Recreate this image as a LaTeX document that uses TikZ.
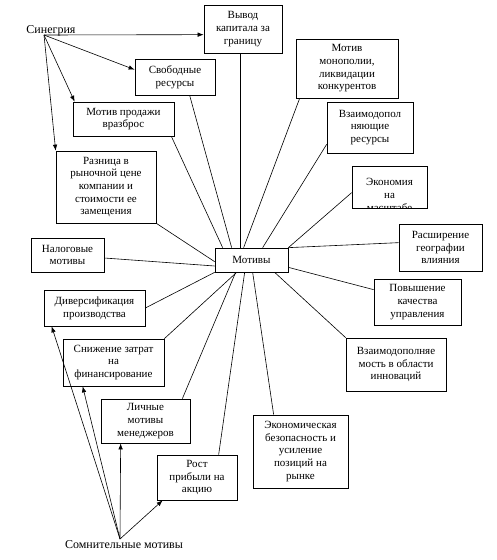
\documentclass[tikz,border=0pt]{standalone}
\usepackage{fontspec}
\setmainfont{Liberation Serif}
\usetikzlibrary{calc,arrows.meta}
\begin{document}
\begin{tikzpicture}[x=1pt,y=-1pt,
  box/.style={draw,line width=0.7pt,inner sep=0pt,align=center,font=\fontsize{11}{12.7}\selectfont},
  link/.style={line width=0.6pt},
  arr/.style={line width=0.6pt,-{Latex[length=6pt,width=4.5pt]}},
  lbl/.style={inner sep=0pt,font=\fontsize{12}{14}\selectfont}]
\useasboundingbox (0,0) rectangle (497,560);

% labels
\node[lbl] (syn) at (51,31) {Синегрия};
\node[lbl] (som) at (124,545) {Сомнительные мотивы};
\coordinate (synpt) at (44,35);
\coordinate (sompt) at (120,539);

% boxes
\node[box,minimum width=78pt,minimum height=48pt] (vyvod) at (243,29) {Вывод\\капитала за\\границу};
\node[box,minimum width=80pt,minimum height=36pt] (svob) at (175,77) {Свободные\\ресурсы};
\node[box,minimum width=101pt,minimum height=34pt] (prod) at (123.5,119) {Мотив продажи\\вразброс};
\node[box,minimum width=100pt,minimum height=72pt] (razn) at (106,187) {Разница в\\рыночной цене\\компании и\\стоимости ее\\замещения};
\node[box,minimum width=102pt,minimum height=59pt] (monop) at (347,68.5) {Мотив\\монополии,\\ликвидации\\конкурентов};
\node[box,minimum width=86pt,minimum height=51pt] (vzres) at (370,127.5) {Взаимодопол\\няющие\\ресурсы};
\begin{scope}
  \clip (352,166) rectangle (427,208);
  \node[box,draw=none] (econtext) at (389.5,195) {Экономия\\на\\масштабе};
\end{scope}
\node[box,minimum width=75pt,minimum height=42pt] (econ) at (389.5,187) {};
\node[box,minimum width=83pt,minimum height=47pt] (rassh) at (440.5,247.5) {Расширение\\географии\\влияния};
\node[box,minimum width=87pt,minimum height=46pt] (povysh) at (417.5,302) {Повышение\\качества\\управления};
\node[box,minimum width=100pt,minimum height=53pt] (innov) at (396,364.5) {Взаимодополняе\\мость в области\\инноваций};
\node[box,minimum width=95pt,minimum height=73pt] (ekbez) at (300.5,451.5) {Экономическая\\безопасность и\\усиление\\позиций на\\рынке};
\node[box,minimum width=80pt,minimum height=45pt] (rost) at (197,477.5) {Рост\\прибыли на\\акцию};
\node[box,minimum width=89pt,minimum height=44pt] (lichn) at (145.5,421) {Личные\\мотивы\\менеджеров};
\node[box,minimum width=101pt,minimum height=47pt] (snizh) at (113.5,362.5) {Снижение затрат\\на\\финансирование};
\node[box,minimum width=101pt,minimum height=36pt] (divers) at (94.5,308) {Диверсификация\\производства};
\node[box,minimum width=73pt,minimum height=34pt] (nalog) at (67.5,255) {Налоговые\\мотивы};
\node[box,minimum width=73pt,minimum height=24pt] (motivy) at (251.5,260) {Мотивы};

% links to Мотивы
\draw[link] ($(vyvod.south west)+(37,0)$) -- ($(motivy.north west)+(26,0)$);
\draw[link] ($(svob.south west)+(55,0)$) -- ($(motivy.north west)+(17,0)$);
\draw[link] ($(prod.south east)+(-3,0)$) -- ($(motivy.north west)+(8,0)$);
\draw[link] (razn.south east) -- ($(motivy.north west)+(0,14)$);
\draw[link] ($(nalog.east)+(0,3)$) -- ($(motivy.west)+(0,6)$);
\draw[link] (divers.east) -- (motivy.south west);
\draw[link] (snizh.north east) -- ($(motivy.south west)+(22,0)$);
\draw[link] ($(lichn.north east)+(-8,0)$) -- ($(motivy.south west)+(21,0)$);
\draw[link] ($(rost.north west)+(62,0)$) -- ($(motivy.south west)+(30,0)$);
\draw[link] ($(ekbez.north west)+(21,0)$) -- ($(motivy.south west)+(38,0)$);
\draw[link] (innov.north west) -- ($(motivy.south west)+(60,0)$);
\draw[link] ($(povysh.north west)+(0,11)$) -- ($(motivy.south east)+(0,-5)$);
\draw[link] ($(rassh.north west)+(0,19)$) -- (motivy.north east);
\draw[link] ($(econ.north west)+(0,27)$) -- (motivy.north east);
\draw[link] ($(vzres.south west)+(0,-9)$) -- ($(motivy.north west)+(48,0)$);
\draw[link] ($(monop.south west)+(4,0)$) -- ($(motivy.north west)+(29,0)$);

% Синегрия arrows
\draw[arr] (synpt) -- ($(vyvod.north west)+(0,30)$);
\draw[arr] (synpt) -- ($(svob.north west)+(0,11)$);
\draw[arr] (synpt) -- ($(prod.north west)+(2,0)$);
\draw[arr] (synpt) -- (razn.north west);

% Сомнительные мотивы arrows
\draw[arr] (sompt) -- ($(divers.south west)+(8,0)$);
\draw[arr] (sompt) -- ($(snizh.south west)+(20,0)$);
\draw[arr] (sompt) -- ($(lichn.south west)+(20,0)$);
\draw[arr] (sompt) -- ($(rost.south west)+(6,0)$);
\end{tikzpicture}
\end{document}
